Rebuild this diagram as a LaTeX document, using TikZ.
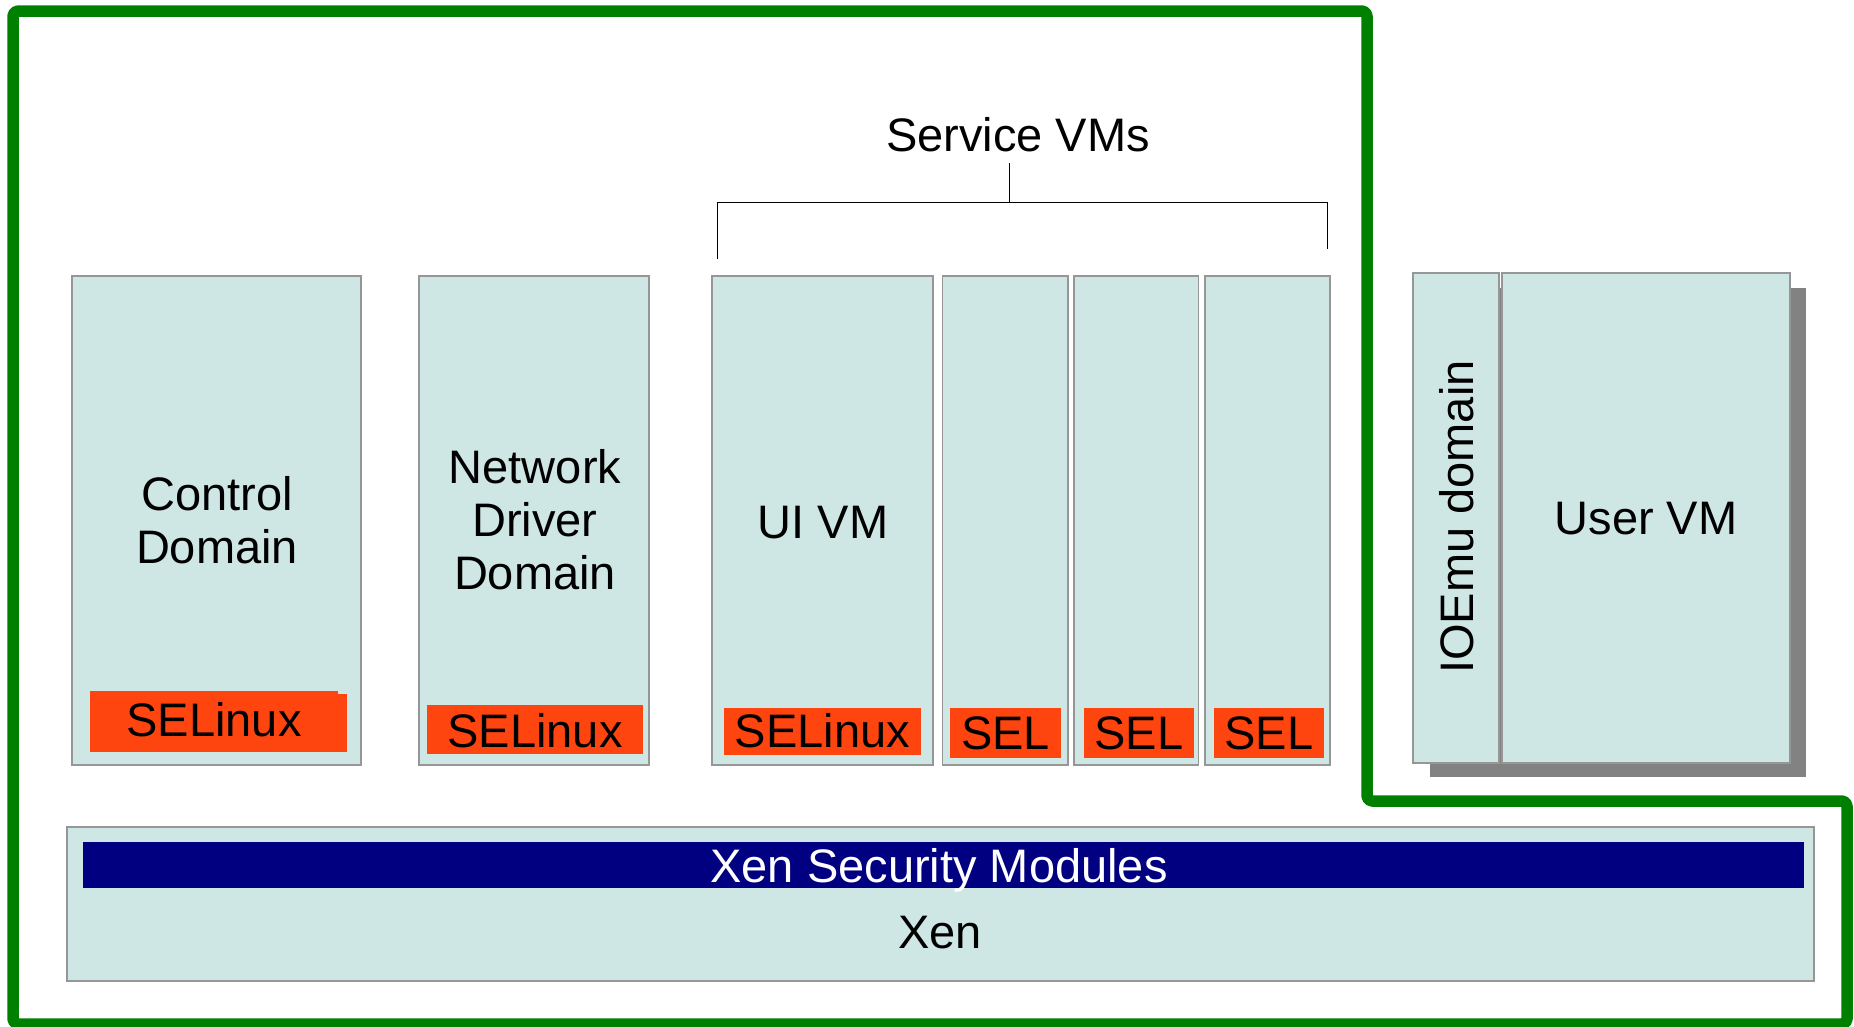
\documentclass[tikz,border=0pt]{standalone}
\usepackage{fontspec}
\setmainfont{Liberation Sans}
\definecolor{boxfill}{RGB}{207,231,228}
\definecolor{boxline}{RGB}{150,150,150}
\definecolor{selred}{RGB}{255,69,15}
\definecolor{xsmblue}{RGB}{0,0,128}
\definecolor{outgreen}{RGB}{0,128,0}
\definecolor{shadowgray}{RGB}{130,130,130}
\tikzset{
  vmbox/.style={draw=boxline, line width=1.3pt, fill=boxfill, inner sep=0pt, outer sep=0pt},
  selbox/.style={fill=selred, draw=none, inner sep=0pt, outer sep=0pt},
  xsmbar/.style={fill=xsmblue, draw=none, inner sep=0pt, outer sep=0pt},
  lbl/.style={font=\fontsize{47}{54}\selectfont, inner sep=0pt, align=center, anchor=base},
  wlbl/.style={lbl, text=white},
  bracket/.style={draw=black, line width=1pt},
  outline/.style={draw=outgreen, line width=11.5pt, rounded corners=5pt, line join=round}
}
\begin{document}
\begin{tikzpicture}[x=1pt,y=-1pt]
\useasboundingbox[fill=white] (0,0) rectangle (1854,1026);

% green outline
\draw[outline] (13,11) -- (1367,11) -- (1367,801) -- (1847,801) -- (1847,1024) -- (13,1024) -- cycle;

% Control domain
\node[vmbox, minimum width=289pt, minimum height=489pt] (cd) at (216.5,520.5) {};
\node[selbox, minimum width=257pt, minimum height=58pt] (cdselb) at (218.5,723) {};
\node[selbox, minimum width=248pt, minimum height=61pt] (cdsela) at (214,721.5) {};
\node[lbl] (cdl1) at (217,510) {Control};
\node[lbl] (cdl2) at (217,563) {Domain};
\node[lbl] (cdsel) at (214,736.5) {SELinux};

% Network driver domain
\node[vmbox, minimum width=230pt, minimum height=489pt] (ndd) at (534,520.5) {};
\node[selbox, minimum width=216pt, minimum height=49pt] (nddsel) at (535,729.5) {};
\node[lbl] (nddl1) at (535,483.5) {Network};
\node[lbl] (nddl2) at (535,536.5) {Driver};
\node[lbl] (nddl3) at (535,589.5) {Domain};
\node[lbl] (nddsell) at (535,747) {SELinux};

% UI VM
\node[vmbox, minimum width=221pt, minimum height=489pt] (ui) at (822.5,520.5) {};
\node[selbox, minimum width=197pt, minimum height=47pt] (uisel) at (822.5,731.5) {};
\node[lbl] (uil) at (823,538) {UI VM};
\node[lbl] (uisell) at (822.5,747) {SELinux};

% other service VMs
\node[vmbox, minimum width=125.5pt, minimum height=489pt] (s2) at (1005.25,520.5) {};
\node[vmbox, minimum width=124.5pt, minimum height=489pt] (s3) at (1136.25,520.5) {};
\node[vmbox, minimum width=125pt, minimum height=489pt] (s4) at (1267.5,520.5) {};
\node[selbox, minimum width=111pt, minimum height=50pt] (sel2) at (1005.5,733) {};
\node[selbox, minimum width=110pt, minimum height=50pt] (sel3) at (1139,733) {};
\node[selbox, minimum width=110pt, minimum height=50pt] (sel4) at (1269,733) {};
\node[lbl] (sel2l) at (1005.5,749) {SEL};
\node[lbl] (sel3l) at (1139,749) {SEL};
\node[lbl] (sel4l) at (1269,749) {SEL};

% Service VMs bracket
\node[lbl] (svc) at (1018,151) {Service VMs};
\coordinate (btop) at (1009.5,163);
\coordinate (bmid) at (1009.5,202);
\coordinate (bl) at (717,202);
\coordinate (blend) at (717,259);
\coordinate (br) at (1327,202);
\coordinate (brend) at (1327,249);
\draw[bracket] (btop) -- (bmid);
\draw[bracket] (blend) -- (bl) -- (br) -- (brend);

% User VM with IOEmu
\node[fill=shadowgray, inner sep=0pt, minimum width=376pt, minimum height=489pt] (shadow) at (1618,532.5) {};
\node[vmbox, minimum width=86pt, minimum height=490pt] (ioemu) at (1456,518) {};
\node[vmbox, minimum width=288pt, minimum height=490pt] (user) at (1646,518) {};
\node[lbl, rotate=90] (ioemul) at (1473,517) {IOEmu domain};
\node[lbl] (userl) at (1646,534) {User VM};

% Xen
\node[vmbox, minimum width=1747pt, minimum height=154pt] (xen) at (940.5,904) {};
\node[xsmbar, minimum width=1721pt, minimum height=46pt] (xsm) at (943.5,865) {};
\node[wlbl] (xsml) at (939,882) {Xen Security Modules};
\node[lbl] (xenl) at (940,948) {Xen};
\end{tikzpicture}
\end{document}
